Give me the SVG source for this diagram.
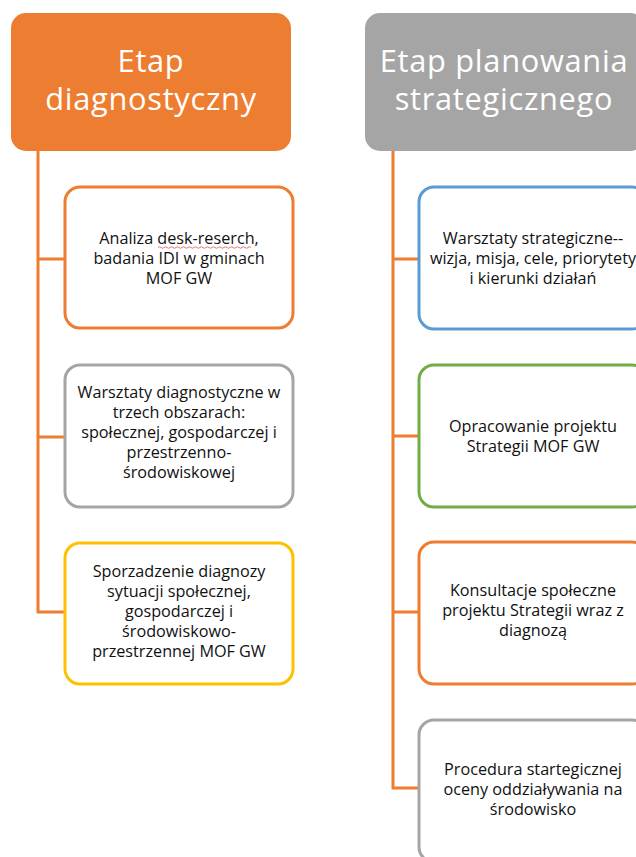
<svg xmlns="http://www.w3.org/2000/svg" width="636" height="857" viewBox="0 0 636 857">
<style>
.hdr{font-family:"Open Sans","Liberation Sans",sans-serif;font-size:30.8px;letter-spacing:0.7px;fill:#fff;text-anchor:middle}
.t{font-family:"Open Sans","Liberation Sans",sans-serif;font-size:16.2px;fill:#111;text-anchor:middle}
.box{fill:#fff;stroke-width:3}
.conn{fill:none;stroke:#ED7D31;stroke-width:3}
</style>
<rect width="636" height="857" fill="#fff"/>
<g id="connectors">
<path class="conn" d="M38 151V612H65M38 259H65M38 437H65"/>
<path class="conn" d="M393 151V788H419M393 259H419M393 436H419M393 612H419"/>
</g>
<g id="hdr-diag">
<rect x="11" y="13" width="280" height="138" rx="15" fill="#ED7D31"/>
<text class="hdr" x="151" y="72">Etap</text>
<text class="hdr" x="151" y="110">diagnostyczny</text>
</g>
<g id="hdr-plan">
<rect x="365" y="13" width="280" height="138" rx="15" fill="#A5A5A5"/>
<text class="hdr" x="504" y="72">Etap planowania</text>
<text class="hdr" x="504" y="110">strategicznego</text>
</g>
<g id="d1">
<rect class="box" x="65" y="187" width="228" height="141" rx="15" stroke="#ED7D31"/>
<text class="t" x="179" y="244">Analiza desk-reserch,</text>
<text class="t" x="179" y="264">badania IDI w gminach</text>
<text class="t" x="179" y="284">MOF GW</text>
<path d="M158 247.5q1.5-1.5 3 0t3 0t3 0t3 0t3 0t3 0t3 0t3 0t3 0t3 0t3 0t3 0t3 0t3 0t3 0t3 0t3 0t3 0t3 0t3 0t3 0t3 0t3 0t3 0t3 0t3 0t3 0t3 0t3 0t3 0t3 0" fill="none" stroke="#E05050" stroke-width="0.8"/>
</g>
<g id="d2">
<rect class="box" x="65" y="365" width="228" height="142" rx="15" stroke="#A5A5A5"/>
<text class="t" x="179" y="398">Warsztaty diagnostyczne w</text>
<text class="t" x="179" y="418">trzech obszarach:</text>
<text class="t" x="179" y="438">społecznej, gospodarczej i</text>
<text class="t" x="179" y="458">przestrzenno-</text>
<text class="t" x="179" y="478">środowiskowej</text>
</g>
<g id="d3">
<rect class="box" x="65" y="543" width="228" height="141" rx="15" stroke="#FFC000"/>
<text class="t" x="179" y="577">Sporzadzenie diagnozy</text>
<text class="t" x="179" y="597">sytuacji społecznej,</text>
<text class="t" x="179" y="617">gospodarczej i</text>
<text class="t" x="179" y="637">środowiskowo-</text>
<text class="t" x="179" y="657">przestrzennej MOF GW</text>
</g>
<g id="p1">
<rect class="box" x="419" y="187" width="228" height="142" rx="15" stroke="#5B9BD5"/>
<text class="t" x="533" y="244">Warsztaty strategiczne--</text>
<text class="t" x="533" y="264">wizja, misja, cele, priorytety</text>
<text class="t" x="533" y="284">i kierunki działań</text>
</g>
<g id="p2">
<rect class="box" x="419" y="365" width="228" height="142" rx="15" stroke="#70AD47"/>
<text class="t" x="533" y="432">Opracowanie projektu</text>
<text class="t" x="533" y="452">Strategii MOF GW</text>
</g>
<g id="p3">
<rect class="box" x="419" y="542" width="228" height="142" rx="15" stroke="#ED7D31"/>
<text class="t" x="533" y="596">Konsultacje społeczne</text>
<text class="t" x="533" y="616">projektu Strategii wraz z</text>
<text class="t" x="533" y="636">diagnozą</text>
</g>
<g id="p4">
<rect class="box" x="419" y="720" width="228" height="142" rx="15" stroke="#A5A5A5"/>
<text class="t" x="533" y="775">Procedura startegicznej</text>
<text class="t" x="533" y="795">oceny oddziaływania na</text>
<text class="t" x="533" y="815">środowisko</text>
</g>
</svg>
